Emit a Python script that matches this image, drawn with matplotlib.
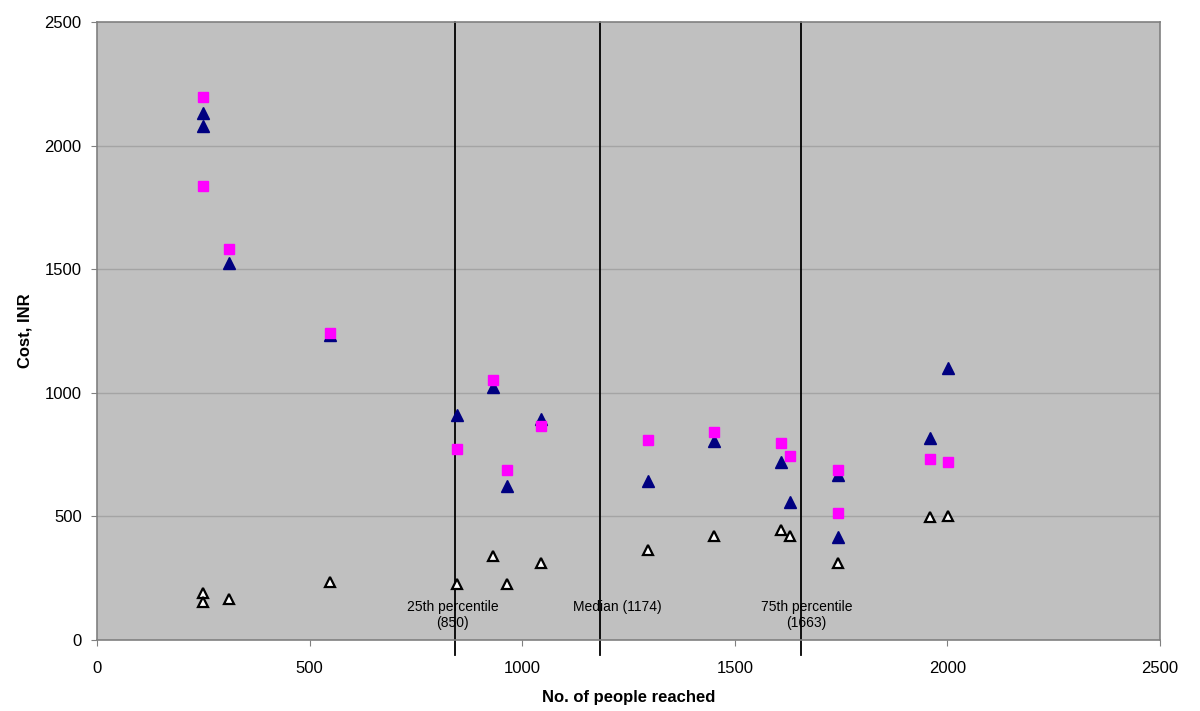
import matplotlib
matplotlib.use("Agg")
import matplotlib.pyplot as plt

plt.rcParams['font.family'] = ['Liberation Sans', 'DejaVu Sans']

# people reached for each site
x_pink = [249, 249, 310, 549, 847, 931, 964, 1045, 1297, 1451, 1609, 1630, 1743, 1743, 1959, 2002]
cost_pink = [2195, 1838, 1582, 1242, 773, 1052, 688, 864, 809, 841, 797, 744, 688, 515, 732, 720]

x_navy = [249, 249, 310, 549, 847, 931, 964, 1045, 1297, 1451, 1609, 1630, 1743, 1743, 1959, 2002]
cost_navy = [2132, 2081, 1525, 1234, 910, 1022, 623, 894, 643, 806, 720, 558, 667, 417, 818, 1101]

x_white = [249, 249, 310, 549, 847, 931, 964, 1045, 1297, 1451, 1609, 1630, 1743, 1959, 2002]
cost_white = [190, 155, 167, 235, 226, 340, 226, 311, 364, 421, 445, 421, 311, 498, 500]

# percentile markers (x position, label)
pct_x = [842, 1184, 1655]
pct_labels = ["25th percentile\n(850)", "Median (1174)", "75th percentile\n(1663)"]
pct_label_x = [837, 1224, 1669]
pct_label_y = [101, 135, 101]

fig = plt.figure(figsize=(12, 7.11), dpi=100)
ax = fig.add_axes([97 / 1200, 1 - 640 / 711, (1160 - 97) / 1200, (640 - 22) / 711])
ax.set_facecolor('#C0C0C0')

for y in range(500, 2500, 500):
    ax.axhline(y, color='#A4A4A4', lw=1, zorder=1)

for xv in pct_x:
    ax.axvline(xv, ymin=-0.025, ymax=1, color='black', lw=1.3, clip_on=False, zorder=2)

for xt, lab, yt in zip(pct_label_x, pct_labels, pct_label_y):
    ax.text(xt, yt, lab, ha='center', va='center', fontsize=10, linespacing=1.25, zorder=3)

ax.plot(x_white, cost_white, linestyle='none', marker='^', markersize=7.5,
        markerfacecolor='white', markeredgecolor='black', markeredgewidth=1.6, zorder=4)
ax.plot(x_navy, cost_navy, linestyle='none', marker='^', markersize=8,
        markerfacecolor='#000080', markeredgecolor='#000080', zorder=5)
ax.plot(x_pink, cost_pink, linestyle='none', marker='s', markersize=7,
        markerfacecolor='#FF00FF', markeredgecolor='#FF00FF', zorder=6)

ax.set_xlim(0, 2500)
ax.set_ylim(0, 2500)
ax.set_xticks(range(0, 2501, 500))
ax.set_yticks(range(0, 2501, 500))
ax.tick_params(axis='x', labelsize=12, length=4, color='#808080', pad=11)
ax.tick_params(axis='y', labelsize=12, length=4, color='#808080', pad=7)
for s in ax.spines.values():
    s.set_color('#808080')
    s.set_linewidth(1.2)

ax.set_xlabel('No. of people reached', fontsize=12, fontweight='bold')
ax.set_ylabel('Cost, INR', fontsize=12, fontweight='bold')
ax.xaxis.set_label_coords(0.5, -0.081)
ax.yaxis.set_label_coords(-0.061, 0.5)

fig.savefig("out.png", dpi=100)
plt.close()
